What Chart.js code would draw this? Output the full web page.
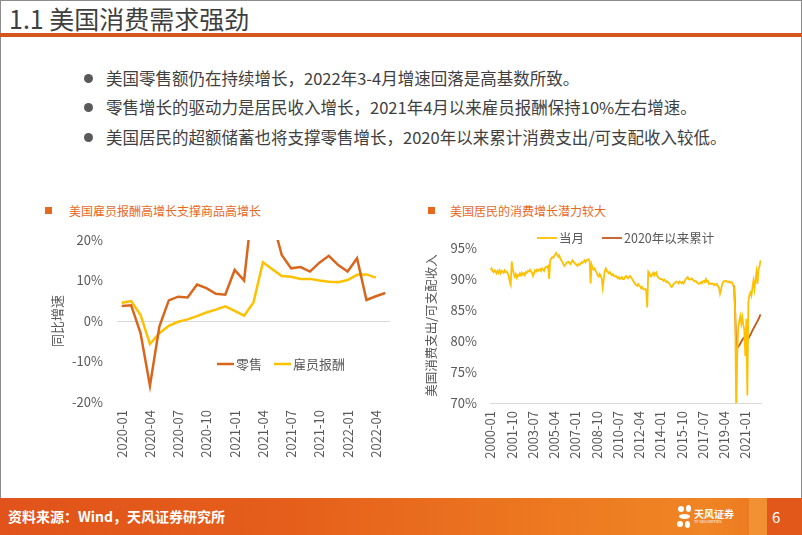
<!DOCTYPE html>
<html lang="zh-CN">
<head>
<meta charset="utf-8">
<title>1.1 美国消费需求强劲</title>
<script src="https://cdn.jsdelivr.net/npm/chart.js@4.4.1/dist/chart.umd.min.js"></script>
<style>
  html, body { margin: 0; padding: 0; }
  body {
    width: 802px; height: 535px; position: relative; overflow: hidden; background: #fff;
    font-family: "Noto Sans CJK SC", "Noto Sans", sans-serif; color: #404040;
  }
  .moldura { position: absolute; left: 0; top: 0; width: 800px; height: 533px; border: 1px solid #8c8c8c; border-bottom: none; }
  #titulo { position: absolute; left: 9px; top: 0px; font-size: 25px; line-height: 36px; color: #3f3f3f; }
  .regua { position: absolute; left: 0; top: 33px; width: 802px; height: 4px; background: #D4561D; }
  .item { position: absolute; left: 106px; font-size: 16.5px; line-height: 22px; color: #404040; white-space: nowrap; }
  .ponto { position: absolute; left: 84px; width: 9px; height: 9px; border-radius: 50%; background: #595959; }
  .subtitulo { position: absolute; font-size: 12px; line-height: 16px; color: #E8681E; white-space: nowrap; }
  .quadrado { position: absolute; width: 7px; height: 7px; background: #E8681E; }
  canvas { position: absolute; }
  .rodape {
    position: absolute; left: 0; top: 498px; width: 802px; height: 37px;
    background: linear-gradient(90deg, #E1531A 0%, #E55E1B 35%, #EC7620 65%, #F08524 88%, #EA6E1E 100%);
  }
  .fonte { position: absolute; left: 8px; top: 506px; font-size: 14px; font-weight: bold; color: #fff; white-space: nowrap; }
  .faixa { position: absolute; left: 749px; top: 498px; width: 18px; height: 37px; background: #F29B3C; opacity: 0.7; }
  .faixa2 { position: absolute; left: 767px; top: 498px; width: 35px; height: 37px; background: #E2581B; }
  .pagina { position: absolute; left: 772px; top: 506px; font-size: 15px; color: #fff; }
  .logo { position: absolute; left: 694px; top: 508px; font-size: 10px; font-weight: bold; color: #fff; line-height: 11px; }
  .logo small { display: block; font-size: 4px; line-height: 5px; font-weight: normal; }
  .petala { position: absolute; background: #fff; border-radius: 50%; }
</style>
</head>
<body>
<div class="moldura"></div>
<div id="titulo">1.1 美国消费需求强劲</div>
<div class="regua"></div>

<div class="ponto" style="top:74px"></div>
<div class="item" style="top:67px">美国零售额仍在持续增长，2022年3-4月增速回落是高基数所致。</div>
<div class="ponto" style="top:103px"></div>
<div class="item" style="top:96px">零售增长的驱动力是居民收入增长，2021年4月以来雇员报酬保持10%左右增速。</div>
<div class="ponto" style="top:133px"></div>
<div class="item" style="top:126px">美国居民的超额储蓄也将支撑零售增长，2020年以来累计消费支出/可支配收入较低。</div>

<div class="quadrado" style="left:45px; top:207px"></div>
<div class="subtitulo" style="left:69px; top:203px">美国雇员报酬高增长支撑商品高增长</div>
<div class="quadrado" style="left:428px; top:207px"></div>
<div class="subtitulo" style="left:450px; top:203px">美国居民的消费增长潜力较大</div>

<canvas id="graficoEsq" width="370" height="250" style="left:30px; top:225px"></canvas>
<canvas id="graficoDir" width="390" height="250" style="left:410px; top:225px"></canvas>

<div class="rodape"></div>
<div class="faixa"></div>
<div class="faixa2"></div>
<div class="fonte">资料来源：Wind，天风证券研究所</div>
<div class="petala" style="left:678px; top:506px; width:6px; height:6px"></div>
<div class="petala" style="left:686px; top:505px; width:5px; height:7px"></div>
<div class="petala" style="left:679px; top:514px; width:11px; height:5px"></div>
<div class="petala" style="left:677px; top:521px; width:6px; height:6px"></div>
<div class="petala" style="left:685px; top:521px; width:5px; height:7px"></div>
<div class="logo">天风证券<small>TF SECURITIES</small></div>
<div class="pagina">6</div>

<script>
// ---- gráfico da esquerda: varejo x remuneração (yoy, %) ----
const mesesEsq = [
  '2020-01','2020-02','2020-03','2020-04','2020-05','2020-06','2020-07','2020-08','2020-09','2020-10','2020-11','2020-12',
  '2021-01','2021-02','2021-03','2021-04','2021-05','2021-06','2021-07','2021-08','2021-09','2021-10','2021-11','2021-12',
  '2022-01','2022-02','2022-03','2022-04','2022-05'
]
const varejo = [
  3.7, 3.9, -3.0, -16.0, -1.4, 5.1, 6.0, 5.8, 9.0, 8.1, 6.7, 6.5,
  12.6, 10.0, 31.0, 52.0, 25.0, 16.3, 13.0, 13.3, 12.2, 14.4, 16.1, 13.8,
  12.2, 15.5, 5.2, 6.1, 6.9
]
const remuneracao = [
  4.5, 4.9, 1.5, -5.7, -3.0, -1.2, -0.2, 0.4, 1.2, 2.1, 2.8, 3.6,
  2.5, 1.3, 4.6, 14.5, 12.8, 11.1, 10.9, 10.4, 10.4, 10.0, 9.7, 9.6,
  10.1, 11.4, 11.5, 10.7, null
]
const ticksEsq = [-20, -10, 0, 10, 20]

// ---- gráfico da direita: consumo / renda disponível (%) ----
function gerarMeses(anoIni, anoFim, mesFim) {
  let lista = []
  for (let a = anoIni; a <= anoFim; a++) {
    for (let m = 1; m <= 12; m++) {
      if (a === anoFim && m > mesFim) break
      lista.push(a + '-' + String(m).padStart(2, '0'))
    }
  }
  return lista
}
const mesesDir = gerarMeses(2000, 2022, 4)

const consumoMensal = [
  91.5, 91.7, 91.3, 91.1, 91.4, 91.2, 90.9, 91.3, 91.0, 91.4, 90.9, 91.3, // 2000
  91.2, 91.0, 91.4, 91.1, 91.2, 90.9, 90.5, 89.6, 89.1, 92.8, 91.6, 90.9, // 2001
  90.4, 90.8, 90.2, 90.6, 90.5, 90.9, 90.6, 91.0, 90.7, 90.9, 90.6, 91.1, // 2002
  91.0, 91.3, 91.2, 91.5, 91.2, 91.0, 90.5, 90.9, 91.4, 91.2, 91.5, 91.3, // 2003
  91.5, 91.6, 91.3, 91.7, 91.5, 91.3, 91.8, 92.0, 91.9, 92.1, 90.0, 93.0, // 2004
  93.3, 93.5, 93.4, 93.7, 93.9, 94.2, 93.9, 93.6, 93.8, 93.3, 93.0, 92.8, // 2005
  92.4, 92.1, 92.3, 92.6, 92.7, 92.8, 92.6, 92.4, 92.7, 93.0, 92.8, 92.6, // 2006
  92.4, 92.3, 92.1, 92.4, 92.3, 92.4, 92.7, 92.6, 92.8, 93.0, 92.7, 93.0, // 2007
  93.1, 93.2, 92.9, 89.3, 92.3, 91.8, 91.5, 91.7, 91.3, 91.0, 90.6, 90.4, // 2008
  90.8, 90.5, 90.0, 88.6, 90.0, 91.3, 91.7, 91.3, 91.1, 90.9, 91.1, 90.8, // 2009
  90.6, 90.8, 90.5, 90.4, 90.5, 90.3, 90.1, 90.3, 90.0, 90.1, 90.3, 90.0, // 2010
  90.0, 90.3, 90.5, 90.3, 90.1, 90.3, 90.5, 90.3, 90.0, 89.7, 89.5, 89.2, // 2011
  89.0, 88.9, 89.2, 88.9, 88.8, 88.5, 88.7, 88.4, 88.3, 88.4, 88.2, 85.4, // 2012
  91.2, 91.0, 90.5, 90.4, 90.8, 91.0, 90.6, 91.0, 91.1, 90.4, 90.3, 90.1, // 2013
  90.0, 90.0, 89.9, 89.7, 89.9, 89.7, 89.5, 89.6, 89.4, 89.3, 88.9, 88.7, // 2014
  88.8, 89.2, 89.3, 89.5, 89.6, 89.5, 89.3, 89.6, 89.5, 89.3, 89.5, 89.3, // 2015
  89.6, 90.0, 90.1, 90.3, 90.0, 89.9, 90.0, 90.1, 89.9, 89.7, 89.6, 89.7, // 2016
  89.5, 89.3, 89.2, 89.3, 89.5, 89.3, 89.6, 89.7, 89.5, 90.0, 89.6, 89.7, // 2017
  89.2, 89.3, 89.2, 89.3, 89.2, 89.0, 89.2, 89.0, 89.2, 88.8, 88.6, 87.6, // 2018
  88.2, 89.1, 89.5, 89.7, 89.6, 89.7, 89.6, 89.5, 89.6, 89.4, 89.5, 89.4, // 2019
  89.0, 88.6, 84.5, 68.0, 78.0, 82.2, 83.2, 84.0, 82.8, 83.8, 82.6, 81.8, // 2020
  77.6, 83.6, 71.2, 86.2, 87.4, 87.8, 87.3, 88.6, 89.7, 88.4, 89.9, 91.1, // 2021
  89.2, 91.6, 92.0, 93.0                                                  // 2022
]
// acumulado desde 2020-01
const consumoAcumulado = [
  89.0, 88.8, 84.5, 78.7, 78.8, 79.1, 79.3, 79.6, 79.9, 80.2, 80.4, 80.6,
  80.3, 80.5, 80.0, 80.4, 80.7, 81.0, 81.3, 81.7, 82.0, 82.3, 82.6, 82.9,
  83.2, 83.5, 83.9, 84.3
]
const ticksDir = [70, 75, 80, 85, 90, 95]

const familia = "'Noto Sans CJK SC', 'Noto Sans', sans-serif"
const corCinza = '#595959'
const corLaranja = '#D8661C'
const corAmarela = '#FFC000'
const corAcumulado = '#C8561A'

Chart.defaults.font.family = familia
Chart.defaults.color = corCinza

// legenda desenhada dentro da área do gráfico
const legendaInterna = {
  id: 'legendaInterna',
  afterDraw(chart, args, opts) {
    const ctx = chart.ctx
    ctx.save()
    ctx.font = opts.tamanho + 'px ' + familia
    ctx.textBaseline = 'middle'
    let x = opts.x
    chart.data.datasets.forEach(ds => {
      ctx.strokeStyle = ds.borderColor
      ctx.lineWidth = ds.borderWidth
      ctx.beginPath()
      ctx.moveTo(x, opts.y)
      ctx.lineTo(x + opts.traco, opts.y)
      ctx.stroke()
      x += opts.traco + 2
      ctx.fillStyle = corCinza
      ctx.fillText(ds.label, x, opts.y)
      x += ctx.measureText(ds.label).width + opts.espaco
    })
    ctx.restore()
  }
}

// larguras fixas dos eixos, sem a folga automatica dos rotulos
function fixarEixoY(largura) {
  return function (scale) {
    scale.width = largura
    scale.paddingTop = 0
    scale.paddingBottom = 0
  }
}
function fixarEixoX(altura) {
  return function (scale) {
    scale.height = altura
    scale.paddingLeft = 0
    scale.paddingRight = 0
  }
}

new Chart(document.getElementById('graficoEsq'), {
  type: 'line',
  data: {
    labels: mesesEsq,
    datasets: [{
      label: '零售',
      data: varejo,
      borderColor: corLaranja,
      backgroundColor: corLaranja,
      borderWidth: 2.5,
      pointRadius: 0,
      tension: 0
    }, {
      label: '雇员报酬',
      data: remuneracao,
      borderColor: corAmarela,
      backgroundColor: corAmarela,
      borderWidth: 2.5,
      pointRadius: 0,
      tension: 0
    }]
  },
  options: {
    responsive: false,
    animation: false,
    devicePixelRatio: 1,
    layout: { padding: { top: 15, right: 10, bottom: 0, left: 0 } },
    plugins: {
      legend: { display: false },
      tooltip: { enabled: false },
      legendaInterna: { x: 187, y: 139, traco: 17, espaco: 12, tamanho: 13 }
    },
    scales: {
      x: {
        offset: true,
        grid: { display: false, drawTicks: false },
        border: { display: false },
        ticks: {
          autoSkip: false,
          minRotation: 90,
          maxRotation: 90,
          padding: 8,
          font: { size: 13 },
          callback: function (value, index) {
            return index % 3 === 0 ? this.getLabelForValue(value) : ''
          }
        },
        afterFit: fixarEixoX(73)
      },
      y: {
        min: ticksEsq[0],
        max: ticksEsq[ticksEsq.length - 1],
        afterBuildTicks: function (scale) { scale.ticks = ticksEsq.map(v => ({ value: v })) },
        grid: {
          drawTicks: false,
          color: ctx => ctx.tick && ctx.tick.value === 0 ? '#D9D9D9' : 'rgba(0,0,0,0)'
        },
        border: { display: false },
        ticks: {
          padding: 14,
          font: { size: 13 },
          callback: v => v + '%'
        },
        title: {
          display: true,
          text: '同比增速',
          font: { size: 13 },
          padding: { top: 19, bottom: 0 }
        },
        afterFit: fixarEixoY(87)
      }
    }
  },
  plugins: [legendaInterna]
})

const nulosAntes = mesesDir.length - consumoAcumulado.length

new Chart(document.getElementById('graficoDir'), {
  type: 'line',
  data: {
    labels: mesesDir,
    datasets: [{
      label: '当月',
      data: consumoMensal,
      borderColor: corAmarela,
      backgroundColor: corAmarela,
      borderWidth: 1.8,
      pointRadius: 0,
      tension: 0
    }, {
      label: '2020年以来累计',
      data: new Array(nulosAntes).fill(null).concat(consumoAcumulado),
      borderColor: corAcumulado,
      backgroundColor: corAcumulado,
      borderWidth: 1.8,
      pointRadius: 0,
      tension: 0
    }]
  },
  options: {
    responsive: false,
    animation: false,
    devicePixelRatio: 1,
    layout: { padding: { top: 23, right: 39, bottom: 0, left: 0 } },
    plugins: {
      legend: { display: false },
      tooltip: { enabled: false },
      legendaInterna: { x: 127, y: 13, traco: 20, espaco: 18, tamanho: 12.5 }
    },
    scales: {
      x: {
        offset: true,
        grid: { display: false, drawTicks: false },
        border: { display: true, color: '#D9D9D9', width: 1 },
        ticks: {
          autoSkip: false,
          minRotation: 90,
          maxRotation: 90,
          padding: 8,
          font: { size: 13 },
          callback: function (value, index) {
            return index % 21 === 0 ? this.getLabelForValue(value) : ''
          }
        },
        afterFit: fixarEixoX(72)
      },
      y: {
        min: ticksDir[0],
        max: ticksDir[ticksDir.length - 1],
        afterBuildTicks: function (scale) { scale.ticks = ticksDir.map(v => ({ value: v })) },
        grid: { display: false, drawTicks: false },
        border: { display: false },
        ticks: {
          padding: 13,
          font: { size: 13 },
          callback: v => v + '%'
        },
        title: {
          display: true,
          text: '美国消费支出/可支配收入',
          font: { size: 12.5 },
          padding: { top: 14, bottom: 0 }
        },
        afterFit: fixarEixoY(80)
      }
    }
  },
  plugins: [legendaInterna]
})
</script>
</body>
</html>
